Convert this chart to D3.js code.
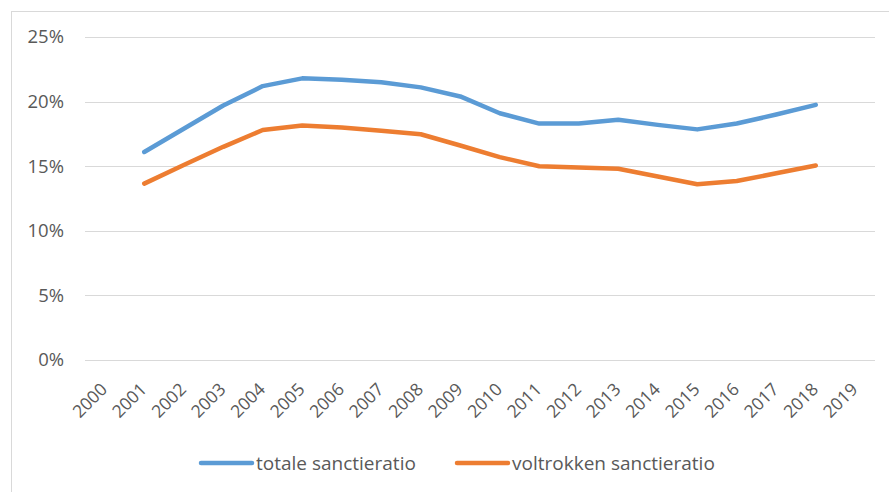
<!DOCTYPE html>
<html>
<head>
<meta charset="utf-8">
<script src="https://cdn.jsdelivr.net/npm/d3@7"></script>
<style>
  body { margin: 0; background: #fff; }
  text { font-family: "Open Sans", "Liberation Sans", sans-serif; fill: #595959; }
</style>
</head>
<body>
<div id="chart"></div>
<script>
// data
var years = ["2000","2001","2002","2003","2004","2005","2006","2007","2008","2009",
             "2010","2011","2012","2013","2014","2015","2016","2017","2018","2019"];
var totale = [null, 16.1, 17.9, 19.7, 21.2, 21.8, 21.7, 21.5, 21.1, 20.4,
              19.1, 18.3, 18.3, 18.6, 18.2, 17.85, 18.3, 19.0, 19.75, null];
var voltrokken = [null, 13.65, 15.1, 16.5, 17.8, 18.15, 18.0, 17.75, 17.47, 16.6,
                  15.7, 15.0, 14.9, 14.8, 14.2, 13.6, 13.85, 14.45, 15.05, null];
var yTicks = [0, 5, 10, 15, 20, 25];
var seriesNames = ["totale sanctieratio", "voltrokken sanctieratio"];
var colors = ["#5B9BD5", "#ED7D31"];

// setup
var width = 889, height = 492;
var plot = { left: 85, right: 875, top: 37, bottom: 360 };

var svg = d3.select("#chart").append("svg")
    .attr("width", width)
    .attr("height", height);

// chart frame
svg.append("rect")
    .attr("x", 11.5).attr("y", 11.5)
    .attr("width", 900).attr("height", 500)
    .attr("fill", "#fff")
    .attr("stroke", "#D9D9D9");

var x = d3.scaleBand().domain(years).range([plot.left, plot.right]);
var y = d3.scaleLinear().domain([0, 25]).range([plot.bottom, plot.top]);

// gridlines
svg.append("g").selectAll("line")
    .data(yTicks)
    .join("line")
    .attr("x1", plot.left).attr("x2", plot.right)
    .attr("y1", d => Math.round(y(d)) + 0.5)
    .attr("y2", d => Math.round(y(d)) + 0.5)
    .attr("stroke", "#D9D9D9")
    .attr("stroke-width", 1);

// y labels
svg.append("g").selectAll("text")
    .data(yTicks)
    .join("text")
    .attr("x", 64)
    .attr("y", d => y(d))
    .attr("dy", "0.35em")
    .attr("text-anchor", "end")
    .style("font-size", "18.5px")
    .text(d => d + "%");

// x labels
svg.append("g").selectAll("text")
    .data(years)
    .join("text")
    .attr("transform", d => `translate(${x(d) + x.bandwidth() / 2 + 3.5}, 390.5) rotate(-45)`)
    .attr("text-anchor", "end")
    .style("font-size", "17.5px")
    .text(d => d);

// lines
var line = d3.line()
    .defined(d => d.v != null)
    .x(d => x(d.year) + x.bandwidth() / 2)
    .y(d => y(d.v));

[totale, voltrokken].forEach(function (vals, i) {
    var pts = years.map((yr, j) => ({ year: yr, v: vals[j] }));
    svg.append("path")
        .attr("d", line(pts))
        .attr("fill", "none")
        .attr("stroke", colors[i])
        .attr("stroke-width", 4.5)
        .attr("stroke-linejoin", "round")
        .attr("stroke-linecap", "round");
});

// legend
var legendPos = [201, 457];
seriesNames.forEach(function (name, i) {
    var g = svg.append("g").attr("transform", `translate(${legendPos[i]}, 463)`);
    g.append("line")
        .attr("x1", 0).attr("x2", 51)
        .attr("stroke", colors[i])
        .attr("stroke-width", 4.5)
        .attr("stroke-linecap", "round");
    g.append("text")
        .attr("x", 55)
        .attr("dy", "0.35em")
        .style("font-size", "19px")
        .text(name);
});
</script>
</body>
</html>
